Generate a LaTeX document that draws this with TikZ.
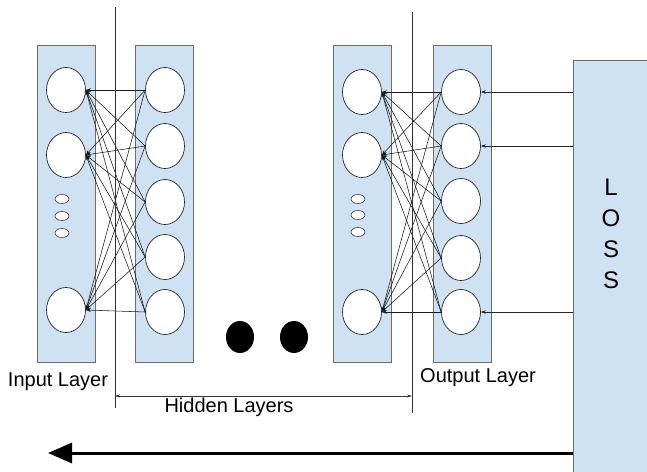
\documentclass[tikz,border=0pt]{standalone}
\usepackage{fontspec}
\setmainfont{Liberation Sans}
\usetikzlibrary{shapes.geometric,arrows.meta}
\definecolor{layerblue}{HTML}{CFE2F3}
\definecolor{layeredge}{HTML}{6B6B6B}
\begin{document}
\begin{tikzpicture}[x=1pt,y=-1pt,
  layer/.style={draw=layeredge, fill=layerblue, line width=0.8pt, rectangle, inner sep=0pt,
                minimum width=58pt, minimum height=317pt},
  neuron/.style={draw=black!85, fill=white, ellipse, inner sep=0pt,
                 minimum width=39pt, minimum height=45pt, line width=0.7pt},
  tinyneuron/.style={draw=black!70, fill=white, ellipse, inner sep=0pt,
                     minimum width=14pt, minimum height=9pt, line width=0.7pt},
  link/.style={draw=black!90, line width=0.55pt, -{Stealth[length=5pt,width=3.5pt]}},
  feed/.style={draw=black!85, line width=0.6pt, -{Stealth[length=5pt,width=3.5pt]}},
  bigdot/.style={fill=black, ellipse, inner sep=0pt, minimum width=28pt, minimum height=32pt},
  lbl/.style={font=\fontsize{20}{24}\selectfont, inner sep=0pt, anchor=base},
  divider/.style={draw=black!80, line width=0.6pt}
]
\useasboundingbox (0,0) rectangle (647,471);

% layer panels
\node[layer] (L1) at (66.5,203.5) {};
\node[layer] (L2) at (164.5,203.5) {};
\node[layer] (L3) at (362,204) {};
\node[layer] (L4) at (462,204) {};

% input layer
\foreach \n/\y in {1/90,2/155,3/310}
  \node[neuron] (a\n) at (66,\y) {};
\foreach \n/\y in {1/199,2/216,3/233}
  \node[tinyneuron] (ad\n) at (62,\y) {};

% first hidden layer
\foreach \n/\y in {1/90,2/146,3/202,4/257,5/312}
  \node[neuron] (b\n) at (165,\y) {};

% last hidden layer
\foreach \n/\y in {1/92,2/155,3/312}
  \node[neuron] (c\n) at (362,\y) {};
\foreach \n/\y in {1/199,2/215,3/232}
  \node[tinyneuron] (cd\n) at (358,\y) {};

% output layer
\foreach \n/\y in {1/92,2/146,3/201,4/258,5/312}
  \node[neuron] (d\n) at (461,\y) {};

% full connections (gradients flowing backwards)
\foreach \i in {1,2,3}
  \foreach \j in {1,...,5} {
    \draw[link] (b\j.west) -- (a\i.east);
    \draw[link] (d\j.west) -- (c\i.east);
  }

% layer group dividers
\coordinate (v1top) at (115,7);
\coordinate (v1bot) at (115,408);
\coordinate (v2top) at (412,12);
\coordinate (v2bot) at (412,413);
\draw[divider] (v1top) -- (v1bot);
\draw[divider] (v2top) -- (v2bot);

% ellipsis between hidden layers
\node[bigdot] (dot1) at (240,337) {};
\node[bigdot] (dot2) at (294,337) {};

% loss block
\node[draw=layeredge, fill=layerblue, line width=0.8pt, rectangle, inner sep=0pt,
      minimum width=100pt, minimum height=430pt, anchor=north west] (loss) at (573,60) {};
\node[font=\fontsize{24}{31}\selectfont, align=center, inner sep=0pt] (lossTxt) at (611,234) {L\\O\\S\\S};

\draw[feed] (loss.west |- d1) -- (d1.east);
\draw[feed] (loss.west |- d2) -- (d2.east);
\draw[feed] (loss.west |- d5) -- (d5.east);

% labels
\node[lbl] (inLbl) at (58,386) {Input Layer};
\node[lbl] (outLbl) at (478,382) {Output Layer};
\coordinate (spanL) at (115,396);
\coordinate (spanR) at (412,396);
\draw[divider, {Stealth[length=5pt,width=3pt]}-{Stealth[length=5pt,width=3pt]}] (spanL) -- (spanR);
\node[lbl] (hidLbl) at (229,412) {Hidden Layers};

% backward pass arrow
\coordinate (backTip) at (48,453);
\draw[line width=3pt, -{Triangle[length=24pt,width=20pt]}] (loss.west |- backTip) -- (backTip);
\end{tikzpicture}
\end{document}
